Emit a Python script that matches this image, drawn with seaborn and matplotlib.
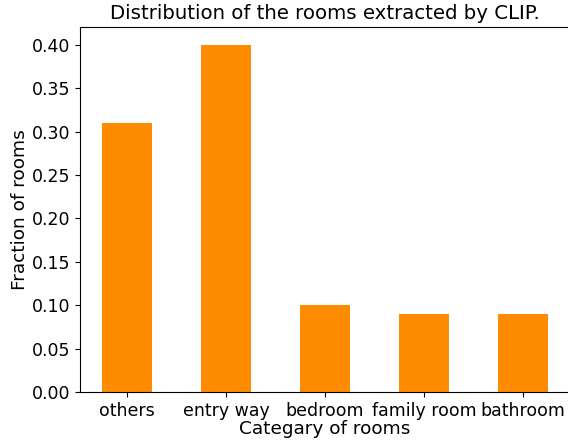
import matplotlib
matplotlib.use("Agg")
import matplotlib.pyplot as plt
import seaborn as sns
import pandas as pd

# Data
categories = ["others", "entry way", "bedroom", "family room", "bathroom"]
fractions = [0.31, 0.40, 0.10, 0.09, 0.09]
yticks = [0.00, 0.05, 0.10, 0.15, 0.20, 0.25, 0.30, 0.35, 0.40]

df = pd.DataFrame({"room": categories, "fraction": fractions})

fig, ax = plt.subplots(figsize=(5.68, 4.43), dpi=100)
sns.barplot(data=df, x="room", y="fraction", color="darkorange",
            saturation=1, width=0.5, ax=ax)

ax.set_title("Distribution of the rooms extracted by CLIP.", fontsize=14.2)
ax.set_xlabel("Categary of rooms", fontsize=13.3, labelpad=0)
ax.set_ylabel("Fraction of rooms", fontsize=13.3, labelpad=2)
ax.set_yticks(yticks)
ax.set_yticklabels([f"{v:.2f}" for v in yticks])
ax.tick_params(labelsize=12.5)
ax.set_xlim(-0.475, 4.475)
ax.set_ylim(0, 0.42)

fig.subplots_adjust(left=0.1408, right=1.004, top=0.9384, bottom=0.1144)
fig.savefig("out.png", dpi=100)
